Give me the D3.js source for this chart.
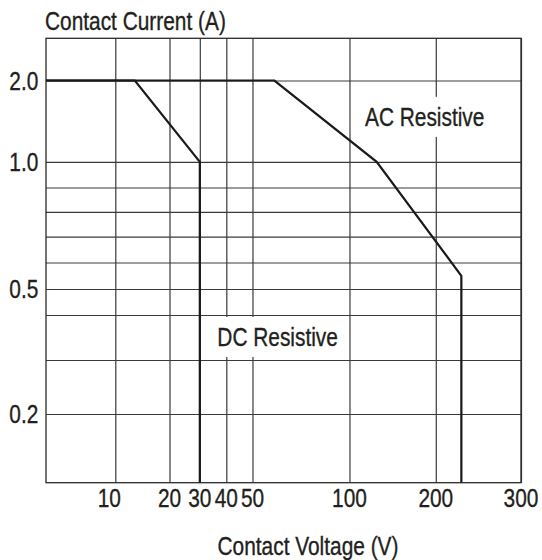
<!DOCTYPE html>
<html>
<head>
<meta charset="utf-8">
<script src="https://cdn.jsdelivr.net/npm/d3@7"></script>
<style>
  html, body { margin: 0; padding: 0; background: #fff; }
  svg { display: block; }
  text { font-family: "Liberation Sans", Arial, Helvetica, sans-serif; fill: #231f20; stroke: #231f20; stroke-width: 0.35px; }
</style>
</head>
<body>
<svg id="chart" width="542" height="560"></svg>
<script>
// ---- data ----
const xTicks = [10, 20, 30, 40, 50, 100, 200, 300];
const xTickLabels = ["10", "20", "30", "40", "50", "100", "200", "300"];
const xMin = 5;
const yGrid = [2.0, 1.0, 0.9, 0.8, 0.7, 0.6, 0.5, 0.4, 0.3, 0.2];
const yTickValues = [2.0, 1.0, 0.5, 0.2];
const yTickLabels = ["2.0", "1.0", "0.5", "0.2"];
const yMax = 3.0, yMin = 0.1;

const dcVoltage = [5, 13.6, 30, 30];
const dcCurrent = [2.0, 2.0, 1.0, 0.1];
const acVoltage = [5, 61.3, 131.5, 230, 230];
const acCurrent = [2.0, 2.0, 1.0, 0.55, 0.1];

const xTitle = "Contact Voltage (V)";
const yTitle = "Contact Current (A)";
const dcLabel = "DC Resistive";
const acLabel = "AC Resistive";

// ---- layout ----
const L = 46, R = 521, T = 38.3, B = 482.7;
const W = R - L, H = B - T;
// the printed chart uses a hand-drawn, non-uniform grid; breakpoints as fractions of the plot box
const xFrac = [0, 0.1459, 0.2600, 0.3238, 0.3796, 0.4347, 0.6389, 0.8206, 1];
const yFrac = [0, 0.0950, 0.2779, 0.3357, 0.3904, 0.4462, 0.5045, 0.5641, 0.6226, 0.7239, 0.8454, 1];

const x = d3.scaleLinear().domain([xMin, ...xTicks]).range(xFrac.map(f => L + f * W));
const y = d3.scaleLinear().domain([yMax, ...yGrid, yMin]).range(yFrac.map(f => T + f * H));

const svg = d3.select("#chart");
const FS = 25, SX = 0.835;

function ctext(g, str, px, py, anchor) {
  return g.append("text")
    .attr("transform", `translate(${px},${py}) scale(${SX},1)`)
    .attr("text-anchor", anchor || "start")
    .attr("font-size", FS)
    .text(str);
}

// grid via axes
const gridX = svg.append("g")
  .attr("transform", `translate(0,${B})`)
  .call(d3.axisBottom(x).tickValues(xTicks).tickSize(-H).tickFormat(""));
const gridY = svg.append("g")
  .attr("transform", `translate(${L},0)`)
  .call(d3.axisLeft(y).tickValues(yGrid).tickSize(-W).tickFormat(""));
[gridX, gridY].forEach(g => {
  g.select(".domain").remove();
  g.selectAll("line").attr("stroke", "#3a3a3a").attr("stroke-width", 1.2);
  g.selectAll("text").remove();
});

// frame
svg.append("rect")
  .attr("x", L).attr("y", T).attr("width", W).attr("height", H)
  .attr("fill", "none").attr("stroke", "#2a2a2a").attr("stroke-width", 1.3);

// label backgrounds
const labels = svg.append("g");
const dcT = ctext(labels, dcLabel, x(40) - 9, y(0.35) + 8.5, "start");
const acT = ctext(labels, acLabel, x(100) + 15.5, y(1.0) - 36, "start");
[dcT, acT].forEach(t => {
  const bb = t.node().getBBox();
  const m = t.node().getCTM();
  const x0 = m.e + bb.x * SX, w = bb.width * SX;
  labels.insert("rect", "text")
    .attr("x", x0 - 8).attr("y", m.f - 29)
    .attr("width", w + 16).attr("height", 40)
    .attr("fill", "#fff");
});

// curves
const line = d3.line().x(d => x(d[0])).y(d => y(d[1]));
const dc = dcVoltage.map((v, i) => [v, dcCurrent[i]]);
const ac = acVoltage.map((v, i) => [v, acCurrent[i]]);
svg.append("path").datum(dc).attr("d", line)
  .attr("fill", "none").attr("stroke", "#1a1a1a").attr("stroke-width", 2.2).attr("stroke-linejoin", "miter");
svg.append("path").datum(ac).attr("d", line)
  .attr("fill", "none").attr("stroke", "#1a1a1a").attr("stroke-width", 2.2).attr("stroke-linejoin", "miter");

// bring label text to front
labels.raise();

// tick labels
const tl = svg.append("g");
xTicks.forEach((v, i) => ctext(tl, xTickLabels[i], x(v) - (v === 10 ? 6 : 0), 506.7, "middle"));
yTickValues.forEach((v, i) => ctext(tl, yTickLabels[i], L - 7.7, y(v) + 9, "end"));

// axis titles
ctext(svg, yTitle, 45, 29.5, "start");
ctext(svg, xTitle, 308, 555, "middle");
</script>
</body>
</html>
